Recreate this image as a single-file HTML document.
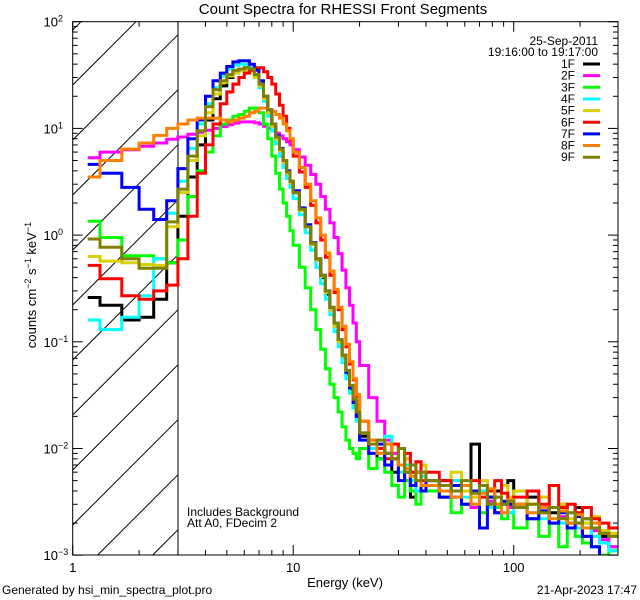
<!DOCTYPE html>
<html><head><meta charset="utf-8"><style>
html,body{margin:0;padding:0;background:#fff;overflow:hidden;width:640px;height:600px}
svg{display:block}
svg text{font-family:"Liberation Sans",sans-serif;fill:#000}
</style></head><body>
<svg id="chart" width="640" height="600" viewBox="0 0 640 600" xmlns="http://www.w3.org/2000/svg">
<rect width="640" height="600" fill="#fff"/>
<defs><clipPath id="plotclip"><rect x="72.7" y="21.7" width="545.3" height="533.3"/></clipPath></defs>
<text x="343" y="14" font-size="15" text-anchor="middle">Count Spectra for RHESSI Front Segments</text>
<g id="hatch"></g>
<line x1="178" y1="21.7" x2="178" y2="555" stroke="#000" stroke-width="1"/>
<g id="series" clip-path="url(#plotclip)"></g>
<rect x="72.7" y="21.7" width="545.3" height="533.3" fill="none" stroke="#000" stroke-width="1"/>
<g id="ticks"></g>
<text x="345" y="587" font-size="13" text-anchor="middle">Energy (keV)</text>
<text transform="translate(36,285) rotate(-90)" font-size="13" text-anchor="middle">counts cm<tspan dy="-5" font-size="9">−2</tspan><tspan dy="5"> s</tspan><tspan dy="-5" font-size="9">−1</tspan><tspan dy="5"> keV</tspan><tspan dy="-5" font-size="9">−1</tspan></text>
<text x="598" y="45" font-size="12" text-anchor="end">25-Sep-2011</text>
<text x="598" y="56" font-size="12" text-anchor="end">19:16:00 to 19:17:00</text>
<g id="legend"></g>
<text x="187" y="516" font-size="12">Includes Background</text>
<text x="187" y="527" font-size="12">Att A0, FDecim 2</text>
<text x="2" y="594" font-size="12">Generated by hsi_min_spectra_plot.pro</text>
<text x="637" y="594" font-size="12" text-anchor="end">21-Apr-2023 17:47</text>
</svg>
<script>
const edges=[1.17,1.33,1.67,2.0,2.33,2.67,3.0,3.33,3.67,4.0,4.33,4.67,5.0,5.33,5.67,6.0,6.33,6.67,7.0,7.33,7.67,8.0,8.33,8.67,9.0,9.33,9.67,10.0,10.67,11.33,12,12.67,13.33,14,14.67,15.33,16,16.67,17.33,18,18.67,19.33,20,22,24,26,28,30,32,34,36,38,40,46,52,58,64,70,76,82,88,94,100,115,130,145,160,175,190,205,225,245,270,297];
const seriesNames=["1F","2F","3F","4F","5F","6F","7F","8F","9F"];
const seriesColors=["#000000","#ff00ff","#00ff00","#00ffff","#d8d000","#ff0000","#0000ff","#ff8000","#808000"];
const s1F=[0.26,0.22,0.16,0.17,0.25,0.55, 1.5,3.5,7,12,19,25,30,34,36,37,36,32,26,19,14,10.5,8,6.2,4.8,3.8,3.1, 2.5,1.7,1.2,0.82,0.58,0.4,0.28,0.2,0.14,0.1,0.072,0.05,0.036,0.026,0.02, 0.013,0.01,0.008,0.009,0.006,0.007,0.005,0.0035,0.006,0.0045, 0.004,0.005,0.0035,0.003,0.011,0.004,0.0035,0.004,0.0045,0.005, 0.003,0.0035,0.0028,0.0025,0.003,0.002,0.0028,0.0022,0.0018,0.0015,0.0012];
const s2F=[5.3,6.0,6.3,6.8,7.3,7.9, 8.3,8.8,9.2,9.6,10,10.4,10.8,11.2,11.5,11.5,11.5,11.3,11,10.5,10,9.5,9,8.5,8,7.5,7, 6.3,5.4,4.5,3.7,3,2.3,1.75,1.3,0.95,0.67,0.47,0.32,0.22,0.15,0.1, 0.06,0.03,0.018,0.012,0.009,0.007,0.008,0.005,0.006,0.0045, 0.004,0.0035,0.005,0.003,0.0028,0.004,0.0032,0.0025,0.003,0.0028, 0.0028,0.0022,0.0025,0.002,0.0023,0.0018,0.002,0.0015,0.0017,0.0014,0.0012];
const s3F=[1.35,0.95,0.64,0.64,0.6,0.55, 0.9,2.3,4,6,8.5,11,12,13,13.5,14.5,15.5,15.5,14,11,8,5.5,3.8,2.7,2,1.5,1.1, 0.8,0.5,0.32,0.2,0.13,0.085,0.056,0.04,0.03,0.022,0.016,0.012,0.01,0.009,0.008, 0.01,0.0065,0.008,0.006,0.0045,0.0035,0.005,0.004,0.003,0.0045, 0.004,0.0035,0.0025,0.003,0.0035,0.0025,0.003,0.0028,0.0022,0.0025, 0.0018,0.0022,0.0015,0.002,0.0012,0.0018,0.0015,0.0013,0.0012,0.001,0.0011];
const s4F=[0.16,0.13,0.17,0.27,0.6,1.6, 3.2,6.5,11,17,24,31,36,39,40,40,37,31,24,18,13,9.5,7.2,5.5,4.3,3.4,2.8, 2.2,1.55,1.05,0.72,0.5,0.35,0.25,0.18,0.125,0.09,0.064,0.045,0.033,0.024,0.018, 0.012,0.01,0.009,0.013,0.008,0.006,0.007,0.005,0.004,0.0055, 0.0045,0.004,0.005,0.0035,0.003,0.004,0.0028,0.0035,0.003,0.0025, 0.003,0.0025,0.0022,0.0028,0.002,0.0025,0.0018,0.0022,0.0015,0.0013,0.0011];
const s5F=[0.63,0.57,0.55,0.53,0.52,1.2, 2.5,5,8.5,14,21,27,31,33,35,35,34,30,25,19,14,10.5,8,6.2,4.8,3.8,3.1, 2.5,1.7,1.2,0.82,0.58,0.41,0.29,0.2,0.14,0.1,0.073,0.053,0.038,0.028,0.021, 0.014,0.012,0.01,0.009,0.011,0.007,0.008,0.006,0.005,0.007, 0.005,0.0045,0.006,0.004,0.0035,0.005,0.004,0.003,0.0045,0.0035, 0.004,0.003,0.0035,0.0028,0.003,0.0022,0.0025,0.002,0.0023,0.0017,0.0016];
const s6F=[0.52,0.39,0.27,0.25,0.3,0.34, 0.6,1.5,3.8,7,11,17,22,26,30,33,35,37,37,34,30,26,21,16.5,13,10,7.8, 5.5,3.9,2.8,1.9,1.3,0.9,0.62,0.42,0.29,0.2,0.13,0.09,0.062,0.044,0.031, 0.018,0.012,0.01,0.008,0.011,0.007,0.009,0.006,0.0075,0.005, 0.006,0.005,0.004,0.0045,0.005,0.0035,0.004,0.005,0.0038,0.003, 0.0035,0.004,0.003,0.0045,0.0028,0.003,0.0025,0.0028,0.0022,0.002,0.0018];
const s7F=[4.6,3.8,2.8,1.75,1.4,2.1, 4.2,8,12,20,28,33,38,42,43,43,40,35,28,20,15,11,8.5,6.5,5,4,3.2, 2.6,1.8,1.25,0.85,0.6,0.42,0.3,0.21,0.15,0.105,0.075,0.052,0.037,0.027,0.02, 0.012,0.009,0.011,0.007,0.008,0.005,0.006,0.0045,0.006,0.004, 0.005,0.0035,0.0045,0.003,0.004,0.0018,0.0035,0.0025,0.0032,0.003, 0.0028,0.0022,0.0026,0.002,0.0025,0.0018,0.0023,0.0015,0.0012,0.0009,0.0008];
const s8F=[3.5,5.0,6.4,7.3,8.6,10, 11,12,12.5,12.5,12.5,12,11.5,12,12.5,13,14,14.5,15.5,15.5,15,14.5,13.5,12.5,11,9.5,8, 6,4.3,3,2.1,1.45,1,0.68,0.46,0.31,0.21,0.14,0.095,0.065,0.045,0.032, 0.018,0.012,0.009,0.011,0.008,0.007,0.0065,0.0055,0.006,0.0045, 0.0045,0.004,0.0035,0.0045,0.003,0.0038,0.0042,0.003,0.0025,0.0033, 0.003,0.0025,0.0028,0.0022,0.0026,0.002,0.0024,0.0018,0.002,0.0016,0.0015];
const s9F=[0.92,0.77,0.6,0.49,0.49,1.33, 2.7,5.5,9.5,16,23,28,32,35,36,37,36,32,26,20,15,11,8.3,6.4,5,3.9,3.2, 2.5,1.75,1.2,0.84,0.6,0.42,0.3,0.21,0.15,0.105,0.075,0.054,0.039,0.029,0.022, 0.014,0.011,0.012,0.009,0.008,0.01,0.006,0.007,0.005,0.006, 0.005,0.0045,0.004,0.005,0.0038,0.0045,0.003,0.0035,0.003,0.0032, 0.0028,0.003,0.0025,0.0028,0.0022,0.0025,0.002,0.0022,0.0018,0.0016,0.0015];
const seriesValues=[s1F,s2F,s3F,s4F,s5F,s6F,s7F,s8F,s9F];
const xTickLabels=["1","10","100"];
const yTickExps=["2","1","0","−1","−2","−3"];

const NS="http://www.w3.org/2000/svg";
const X0=72.7,XD=220.5,Y0=21.7,YD=106.7,XR=618,YB=555,XH=178;
function xS(e){return X0+XD*Math.log10(e);}
function yS(v){return Y0+YD*(2-Math.log10(v));}
function mk(tag,attrs,parent){const el=document.createElementNS(NS,tag);for(const k in attrs)el.setAttribute(k,attrs[k]);parent.appendChild(el);return el;}

const hatch=document.getElementById('hatch');
for(let k=-1;k<12;k++){const c=85+55*k;
 // line: y = c - (x - X0); clip to box [X0,XH]x[Y0,YB]
 let xa=X0, ya=c; if(ya>YB){xa=X0+(ya-YB);ya=YB;}
 let xb=XH, yb=c-(XH-X0); if(yb<Y0){xb=X0+(c-Y0);yb=Y0;}
 if(xa>=xb) continue;
 const l=mk('line',{x1:xa.toFixed(1),y1:ya.toFixed(1),x2:xb.toFixed(1),y2:yb.toFixed(1),stroke:'#000','stroke-width':1},hatch);
 
 }

const sg=document.getElementById('series');
seriesValues.forEach((vals,si)=>{
 let d='';
 for(let i=0;i<vals.length;i++){
  const y=Math.min(YB+2,yS(vals[i])).toFixed(1);
  const xa=xS(edges[i]).toFixed(1),xb=xS(edges[i+1]).toFixed(1);
  d+=(i===0?'M':'L')+xa+','+y+'L'+xb+','+y;
 }
 const p=mk('path',{d:d,fill:'none',stroke:seriesColors[si],'stroke-width':3,'stroke-linejoin':'miter'},sg);
 
 
});

const tg=document.getElementById('ticks');
function tk(x1,y1,x2,y2){const l=mk('line',{x1:x1,y1:y1,x2:x2,y2:y2,stroke:'#000','stroke-width':1},tg);
 
 }
for(let p=0;p<3;p++){
 for(let m=1;m<10;m++){const e=m*Math.pow(10,p);if(e>297)break;const x=xS(e);const L=m===1?10:5;
  tk(x,YB,x,YB-L);tk(x,Y0,x,Y0+L);}
}
xTickLabels.forEach((lab,i)=>{const t=mk('text',{x:xS(Math.pow(10,i)),y:572,'font-size':13,'text-anchor':'middle'},tg);t.textContent=lab;
 
 });
for(let p=-3;p<=2;p++){
 for(let m=1;m<10;m++){if(p===2&&m>1)break;const v=m*Math.pow(10,p);const y=yS(v);const L=m===1?10:5;
  tk(X0,y,X0+L,y);tk(XR,y,XR-L,y);}
}
yTickExps.forEach((ex,i)=>{const y=yS(Math.pow(10,2-i));
 const t=mk('text',{x:58,y:y+5,'font-size':13,'text-anchor':'end'},tg);t.textContent='10';
 
 
 const s=mk('text',{x:58,y:y,'font-size':9},tg);s.textContent=ex;
 
 });

const lg=document.getElementById('legend');
seriesNames.forEach((n,i)=>{const y=68+11.65*i;
 const t=mk('text',{x:575,y:y,'font-size':12,'text-anchor':'end'},lg);t.textContent=n;
 
 
 const l=mk('line',{x1:583,y1:y-4,x2:600,y2:y-4,stroke:seriesColors[i],'stroke-width':3},lg);
 
 });
</script>
</body></html>
